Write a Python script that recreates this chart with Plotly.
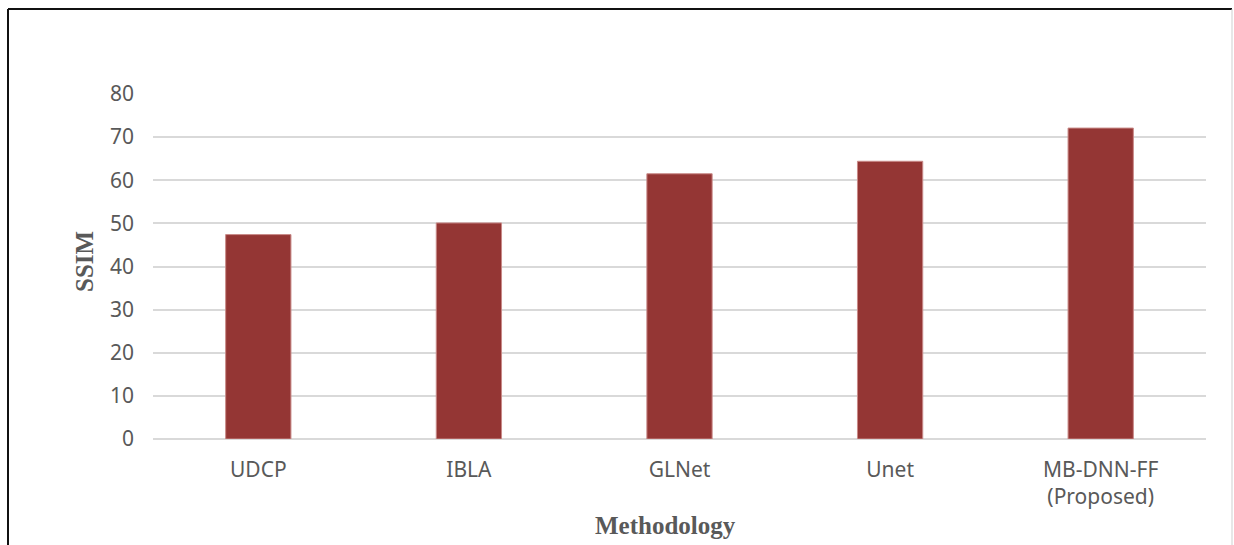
import plotly.graph_objects as go

# SSIM scores per dehazing method
methods = ["UDCP", "IBLA", "GLNet", "Unet", "MB-DNN-FF<br>(Proposed)"]
ssim = [47.4, 50.1, 61.5, 64.4, 72.1]
y_ticks = [0, 10, 20, 30, 40, 50, 60, 70, 80]

W, H = 1234, 545
L, R, T, B = 153, 28, 94, 106
pw, ph = W - L - R, H - T - B


def px(x):
    return (x - L) / pw


def py(y):
    return (H - B - y) / ph


fig = go.Figure(
    go.Bar(
        x=methods,
        y=ssim,
        marker=dict(color="#943634", line=dict(color="#c98a88", width=1)),
        width=0.31,
    )
)

tick_font = dict(family="Noto Sans", size=21, color="#595959")
title_font = dict(family="Liberation Serif", size=25, color="#595959")

fig.update_layout(
    width=W,
    height=H,
    margin=dict(l=L, r=R, t=T, b=B),
    paper_bgcolor="white",
    plot_bgcolor="white",
    showlegend=False,
    xaxis=dict(
        tickfont=tick_font,
        showgrid=False,
        showline=False,
        ticks="",
        ticklabelstandoff=16,
    ),
    yaxis=dict(
        range=[0, 80],
        tickvals=y_ticks,
        tickfont=tick_font,
        showgrid=True,
        gridcolor="#d9d9d9",
        gridwidth=2,
        zeroline=True,
        zerolinecolor="#d9d9d9",
        zerolinewidth=2,
        showline=False,
        ticks="",
        ticklabelstandoff=18,
    ),
    annotations=[
        dict(
            text="<b>SSIM</b>", x=px(84), y=py(262), xref="paper", yref="paper",
            textangle=-90, showarrow=False, font=title_font,
            xanchor="center", yanchor="middle",
        ),
        dict(
            text="<b>Methodology</b>", x=px(665), y=py(525), xref="paper", yref="paper",
            showarrow=False, font=title_font, xanchor="center", yanchor="middle",
        ),
    ],
    shapes=[
        dict(type="line", xref="paper", yref="paper", x0=px(8), x1=px(8),
             y0=py(9), y1=py(560), line=dict(color="#111111", width=2)),
        dict(type="line", xref="paper", yref="paper", x0=px(8), x1=px(1232),
             y0=py(9), y1=py(9), line=dict(color="#111111", width=2)),
        dict(type="line", xref="paper", yref="paper", x0=px(1232), x1=px(1232),
             y0=py(9), y1=py(560), line=dict(color="#cfcfcf", width=1)),
    ],
)

fig.write_html("out.html")
